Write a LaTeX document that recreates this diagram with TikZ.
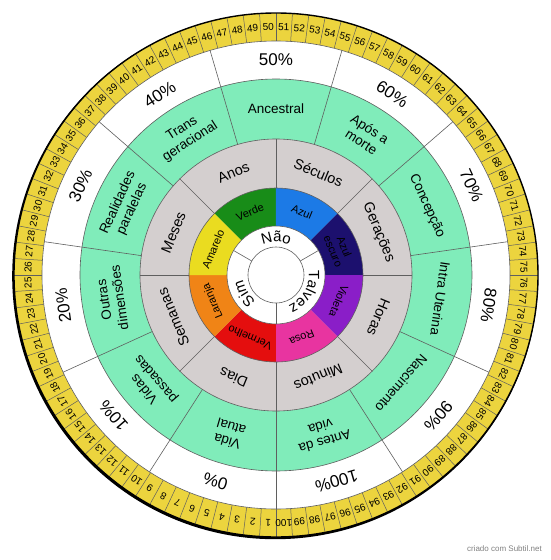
\documentclass[tikz,border=0pt]{standalone}
\usepackage{fontspec}
\setmainfont{Liberation Sans}
\usepackage{tikz}
\usetikzlibrary{decorations.text}
\definecolor{scaleyellow}{RGB}{236,212,62}
\definecolor{mint}{RGB}{128,236,186}
\definecolor{ringgray}{RGB}{212,207,207}
\definecolor{edgegray}{RGB}{95,95,95}
\definecolor{cverde}{RGB}{24,140,24}
\definecolor{cazul}{RGB}{28,122,230}
\definecolor{cazulescuro}{RGB}{28,16,110}
\definecolor{cvioleta}{RGB}{138,30,200}
\definecolor{crosa}{RGB}{232,52,160}
\definecolor{cvermelho}{RGB}{228,14,14}
\definecolor{claranja}{RGB}{240,132,22}
\definecolor{camarelo}{RGB}{234,220,32}
\tikzset{
  ringtext/.style 2 args={align=center, inner sep=0pt, font=\fontsize{#1}{#2}\selectfont},
  divider/.style={draw=edgegray, line width=0.6pt}
}

\begin{document}
\begin{tikzpicture}[x=1pt,y=1pt]
\useasboundingbox (-276,-285) rectangle (274,275);
\fill[black] (-0.8,-1.2) circle (263);
\fill[scaleyellow] (0,0) circle (262);
\foreach \n in {0,...,99}
  \draw[divider, line width=0.5pt] (-90-3.6*\n:234) -- (-90-3.6*\n:262);
\draw[black, line width=1.4pt] (0,0) circle (262);
\filldraw[fill=white, divider] (0,0) circle (234);
\filldraw[fill=mint, divider] (0,0) circle (196);
\filldraw[fill=ringgray, divider] (0,0) circle (136);
\foreach \c [count=\i from 0] in {cverde,cazul,cazulescuro,cvioleta,crosa,cvermelho,claranja,camarelo}
  \fill[\c] (0,0) -- (135-45*\i:87) arc[start angle=135-45*\i, end angle=90-45*\i, radius=87] -- cycle;
\draw[divider] (0,0) circle (87);
\filldraw[fill=white, divider] (0,0) circle (49);
\draw[divider] (0,0) circle (28);
\foreach \k in {0,...,10}
  \draw[divider] (-90-32.7273*\k:136) -- (-90-32.7273*\k:234);
\foreach \i in {0,...,7}
  \draw[divider] (45*\i:87) -- (45*\i:136);
\foreach \a in {150,30,-90}
  \draw[divider] (\a:28) -- (\a:49);

\foreach \n in {1,...,100}
  \node[ringtext={10}{11}, rotate=-178.2-3.6*\n] (num\n) at (-88.2-3.6*\n:248) {\n};

\foreach \k/\p in {0/0,1/10,2/20,3/30,4/40,5/50,6/60,7/70,8/80,9/90,10/100}
  \node[ringtext={17}{19}, rotate=-196.3636-32.7273*\k] (pct\k) at (-106.3636-32.7273*\k:215) {\p\%};

\foreach \k/\txt in {0/{Vida\\atual}, 1/{Vidas\\passadas}, 2/{Outras\\dimensões},
    3/{Realidades\\paralelas}, 4/{Trans\\geracional}, 5/{Ancestral}, 6/{Após a\\morte},
    7/{Concepção}, 8/{Intra Uterina}, 9/{Nascimento}, 10/{Antes da\\vida}}
  \node[ringtext={13.5}{15.5}, rotate=-196.3636-32.7273*\k] (life\k) at (-106.3636-32.7273*\k:166) {\txt};

\foreach \txt [count=\i from 0] in {Anos,Séculos,Gerações,Horas,Minutos,Dias,Semanas,Meses}
  \node[ringtext={14.5}{16}, rotate=22.5-45*\i] (time\i) at (112.5-45*\i:111) {\txt};

\foreach \txt [count=\i from 0] in {Verde,Azul,{Azul\\escuro},Violeta,Rosa,Vermelho,Laranja,Amarelo}
  \node[ringtext={11}{12}, rotate=22.5-45*\i] (colour\i) at (112.5-45*\i:68) {\txt};

\path[decorate, decoration={text along path, text align=center,
    text={|\fontsize{15}{15}\selectfont|Não}}] (150:33) arc[start angle=150, end angle=30, radius=33];
\path[decorate, decoration={text along path, text align=center,
    text={|\fontsize{15}{15}\selectfont|Talvez}}] (30:33) arc[start angle=30, end angle=-90, radius=33];
\path[decorate, decoration={text along path, text align=center,
    text={|\fontsize{15}{15}\selectfont|Sim}}] (-90:33) arc[start angle=-90, end angle=-210, radius=33];

\node[anchor=east, inner sep=0pt, text=gray, font=\fontsize{8}{9}\selectfont] (credit) at (266,-274) {criado com Subtil.net};
\end{tikzpicture}
\end{document}
